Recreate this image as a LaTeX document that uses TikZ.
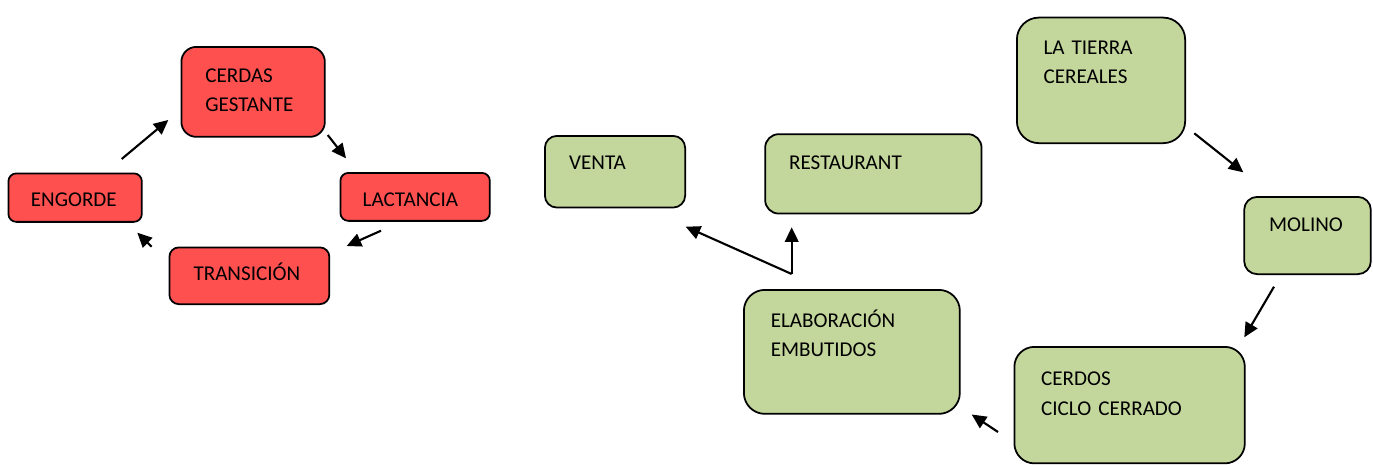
\documentclass[tikz,border=0pt]{standalone}
\usepackage{fontspec}
\setmainfont{Carlito}
\usepackage{tikz}
\usetikzlibrary{arrows.meta}
\definecolor{rojo}{RGB}{255,80,80}
\definecolor{verde}{RGB}{195,214,155}
\tikzstyle{caja}=[draw, line width=1pt, anchor=north west, inner ysep=0pt, align=left,
  font=\fontsize{12pt}{16.7pt}\selectfont]
\tikzstyle{cajaroja}=[caja, fill=rojo]
\tikzstyle{cajaverde}=[caja, fill=verde]
\tikzstyle{flecha}=[line width=1.2pt, -{Triangle[length=0.29cm,width=0.27cm]}]

\begin{document}
\begin{tikzpicture}[x=0.02cm, y=-0.02cm]
        \useasboundingbox (0,0) rectangle (1373,464);

        % ciclo de las cerdas
        \node[cajaroja, rounded corners=0.3cm, inner xsep=0.48cm, text width=1.91cm, text height=0.714cm, text depth=1.086cm] (gestante) at (180.5,46) {CERDAS\\GESTANTE};
        \node[cajaroja, rounded corners=0.16cm, inner xsep=0.446cm, text width=2.098cm, text height=0.674cm, text depth=0.286cm] (lactancia) at (339.5,172) {LACTANCIA};
        \node[cajaroja, rounded corners=0.19cm, inner xsep=0.484cm, text width=2.232cm, text height=0.67cm, text depth=0.466cm] (transicion) at (168.5,246.5) {TRANSICIÓN};
        \node[cajaroja, rounded corners=0.16cm, inner xsep=0.45cm, text width=1.77cm, text height=0.664cm, text depth=0.306cm] (engorde) at (7.5,172.5) {ENGORDE};

        % cadena de la granja
        \node[cajaverde, rounded corners=0.44cm, inner xsep=0.534cm, text width=2.298cm, text height=0.732cm, text depth=1.78cm] (tierra) at (1016,16.7) {LA TIERRA\\CEREALES};
        \node[cajaverde, rounded corners=0.26cm, inner xsep=0.5cm, text width=1.534cm, text height=0.70cm, text depth=0.846cm] (molino) at (1243.3,196) {MOLINO};
        \node[cajaverde, rounded corners=0.4cm, inner xsep=0.536cm, text width=3.538cm, text height=0.776cm, text depth=1.554cm] (cerdos) at (1013.5,346) {CERDOS\\CICLO CERRADO};
        \node[cajaverde, rounded corners=0.42cm, inner xsep=0.538cm, text width=3.244cm, text height=0.754cm, text depth=1.726cm] (elaboracion) at (743,289) {ELABORACIÓN\\EMBUTIDOS};
        \node[cajaverde, rounded corners=0.24cm, inner xsep=0.486cm, text width=1.834cm, text height=0.68cm, text depth=0.754cm] (venta) at (544,135) {VENTA};
        \node[cajaverde, rounded corners=0.27cm, inner xsep=0.48cm, text width=3.368cm, text height=0.70cm, text depth=0.888cm] (restaurant) at (764.3,133.3) {RESTAURANT};

        % puntas de las flechas
        \coordinate (eng1) at (121.7,159);   \coordinate (ges1) at (168.3,120);
        \coordinate (ges2) at (327.7,135);   \coordinate (lac1) at (346,158.3);
        \coordinate (lac2) at (381,230.7);   \coordinate (tra1) at (346.7,246);
        \coordinate (tra2) at (151.7,246.7); \coordinate (eng2) at (137.3,232.7);
        \coordinate (tie1) at (1194.3,133.3); \coordinate (mol1) at (1243.3,172.3);
        \coordinate (mol2) at (1274,286.7);  \coordinate (cer1) at (1244.3,337.3);
        \coordinate (cer2) at (998,432);     \coordinate (ela1) at (971.7,414.5);
        \coordinate (rama) at (791.7,274);
        \coordinate (ven1) at (685.7,226.7); \coordinate (res1) at (791.7,227.3);

        % flechas
        \draw[flecha] (eng1) -- (ges1);
        \draw[flecha] (ges2) -- (lac1);
        \draw[flecha] (lac2) -- (tra1);
        \draw[flecha] (tra2) -- (eng2);
        \draw[flecha] (tie1) -- (mol1);
        \draw[flecha] (mol2) -- (cer1);
        \draw[flecha] (cer2) -- (ela1);
        \draw[flecha] (rama) -- (ven1);
        \draw[flecha] (rama) -- (res1);
    \end{tikzpicture}
\end{document}
